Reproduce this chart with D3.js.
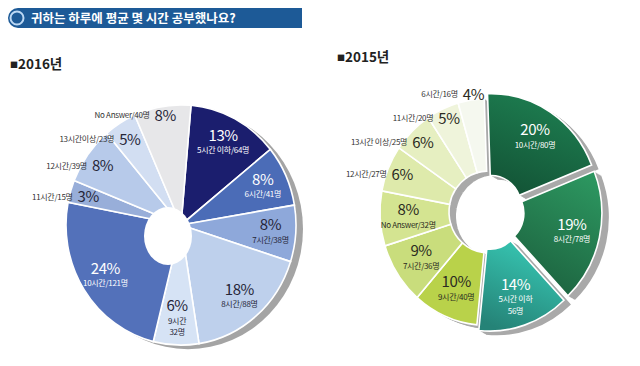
<!DOCTYPE html>
<html>
<head>
<meta charset="utf-8">
<script src="https://cdn.jsdelivr.net/npm/d3@7"></script>
<style>
  body { margin: 0; background: #fff; }
  text { font-family: "Noto Sans CJK KR", "Liberation Sans", sans-serif; }
</style>
</head>
<body>
<svg id="chart" width="640" height="366"></svg>
<script>
'use strict'

const TITLE = '귀하는 하루에 평균 몇 시간 공부했나요?'

// 2016
const names2016 = ['5시간 이하/64명', '6시간/41명', '7시간/38명', '8시간/88명', '9시간\n32명',
                   '10시간/121명', '11시간/15명', '12시간/39명', '13시간이상/23명', 'No Answer/40명']
const counts2016 = [64, 41, 38, 88, 32, 121, 15, 39, 23, 40]
const pcts2016 = [13, 8, 8, 18, 6, 24, 3, 8, 5, 8]
const colors2016 = ['#1b1e6e', '#4b6cb7', '#8ea8da', '#bed0ec', '#d6e3f5',
                    '#5371ba', '#98aed9', '#b7caea', '#d2def2', '#e7e7e9']

// 2015
const names2015 = ['10시간/80명', '8시간/78명', '5시간 이하\n56명', '9시간/40명', '7시간/36명',
                   'No Answer/32명', '12시간/27명', '13시간 이상/25명', '11시간/20명', '6시간/16명']
const counts2015 = [80, 78, 56, 40, 36, 32, 27, 25, 20, 16]
const pcts2015 = [20, 19, 14, 10, 9, 8, 6, 6, 5, 4]
const colors2015 = ['#176440', '#22744a', '#2c9d8e', '#b9d24a', '#c9dd7c',
                    '#d4e491', '#deeaab', '#e6efc1', '#eff4db', '#f5f8ef']

const svg = d3.select('#chart')
const defs = svg.append('defs')

// title bar
svg.append('rect').attr('x', 8).attr('y', 8).attr('width', 294).attr('height', 20)
  .attr('rx', 10).attr('fill', '#1d5a97')
svg.append('rect').attr('x', 280).attr('y', 8).attr('width', 22).attr('height', 20).attr('fill', '#1d5a97')
svg.append('circle').attr('cx', 17).attr('cy', 18).attr('r', 6.5)
  .attr('fill', '#1d5a97').attr('stroke', '#bcd8f4').attr('stroke-width', 2)
svg.append('text').attr('x', 31).attr('y', 22.5).text(TITLE)
  .attr('fill', '#fff').attr('font-size', 12.5).attr('font-weight', 'bold')

function header(x, y, year){
  let t = svg.append('text').attr('x', x).attr('y', y).attr('fill', '#222')
  t.append('tspan').text('■').attr('font-size', 8).attr('dy', -1)
  t.append('tspan').text(year + '년').attr('font-size', 13.5).attr('font-weight', 'bold').attr('dy', 1)
}
header(10, 69, 2016)
header(337, 62, 2015)

function polar(c, a, rr){
  return [c.cx + rr * Math.sin(a), c.cy - rr * c.sy * Math.cos(a)]
}

function makeArcs(c, names, counts, pcts, colors){
  let rows = names.map(function(n, i){
    return {name: n, count: counts[i], pct: pcts[i], color: colors[i], i: i}
  })
  let start = c.start * Math.PI / 180
  return d3.pie().sort(null).value(function(d){ return d.count })
    .startAngle(start).endAngle(start + 2 * Math.PI)(rows)
}

function explodeOffset(c, a){
  if (a.index >= c.explodeN) return [0, 0]
  let mid = (a.startAngle + a.endAngle) / 2
  return [c.explode * Math.sin(mid), -c.explode * Math.cos(mid)]
}

function shade(id, base){
  let col = d3.color(base)
  let lg = defs.append('linearGradient').attr('id', id)
    .attr('x1', 0.7).attr('y1', 0).attr('x2', 0.3).attr('y2', 1)
  lg.append('stop').attr('offset', 0).attr('stop-color', col.brighter(0.7))
  lg.append('stop').attr('offset', 1).attr('stop-color', col.darker(0.5))
  return 'url(#' + id + ')'
}

function drawLabels(c, arcs){
  let lg = svg.append('g')
  let lastY = null
  arcs.forEach(function(a){
    let mid = (a.startAngle + a.endAngle) / 2
    let deg = ((mid * 180 / Math.PI) % 360 + 360) % 360
    let off = explodeOffset(c, a)
    let light = d3.lab(a.data.color).l > 62
    let fill = light ? c.textColor : '#fff'
    if (deg < 280){
      let p = polar(c, mid, c.r * c.stackK)
      let x = p[0] + off[0], y = p[1] + off[1]
      let lines = a.data.name.split('\n')
      let shift = (lines.length - 1) * 6
      lg.append('text').attr('x', x).attr('y', y - 7 - shift).attr('dy', '0.36em')
        .attr('text-anchor', 'middle').attr('fill', fill)
        .attr('font-family', '"Liberation Sans", Arial, sans-serif')
        .attr('font-size', 15).attr('letter-spacing', -0.4)
        .text(a.data.pct + '%')
      lines.forEach(function(l, k){
        lg.append('text').attr('x', x).attr('y', y + 8 - shift + k * 11.5).attr('dy', '0.36em')
          .attr('text-anchor', 'middle').attr('fill', fill)
          .attr('font-size', 8).attr('letter-spacing', -0.3)
          .text(l)
      })
    } else {
      // outer labels climb the left side; keep them apart vertically
      let p = polar(c, mid, c.r * c.inlineK)
      if (lastY !== null) p[1] = Math.min(p[1], lastY - 24)
      lastY = p[1]
      let pt = lg.append('text').attr('x', p[0]).attr('y', p[1]).attr('dy', '0.36em')
        .attr('text-anchor', 'middle').attr('fill', c.textColor)
        .attr('font-family', '"Liberation Sans", Arial, sans-serif')
        .attr('font-size', 15).attr('letter-spacing', -0.4)
        .text(a.data.pct + '%')
      let w = pt.node().getComputedTextLength()
      lg.append('text').attr('x', p[0] - w / 2 - 5).attr('y', p[1]).attr('dy', '0.36em')
        .attr('text-anchor', 'end').attr('fill', '#333')
        .attr('font-size', 8).attr('letter-spacing', -0.3)
        .text(a.data.name)
    }
  })
}

// ---- 2016: full pie with grey side and an off-centre hole
const c16 = {cx: 181, cy: 225, r: 115, sy: 1.045, start: 5, stackK: 0.78, inlineK: 0.84,
             explodeN: 0, explode: 0, textColor: '#262638'}
const arcs16 = makeArcs(c16, names2016, counts2016, pcts2016, colors2016)

svg.append('ellipse').attr('cx', c16.cx + 7).attr('cy', c16.cy + 4)
  .attr('rx', c16.r).attr('ry', c16.r * c16.sy).attr('fill', '#a4a4a4')

let g16 = svg.append('g').attr('transform', 'translate(' + c16.cx + ',' + c16.cy + ') scale(1,' + c16.sy + ')')
g16.selectAll('path').data(arcs16).enter().append('path')
  .attr('d', d3.arc().innerRadius(0).outerRadius(c16.r))
  .attr('fill', function(d){ return d.data.color })
  .attr('stroke', '#fff').attr('stroke-width', 1.6)

svg.append('ellipse').attr('cx', c16.cx - 13).attr('cy', c16.cy + 11)
  .attr('rx', 24).attr('ry', 29).attr('fill', '#fff')

drawLabels(c16, arcs16)

// ---- 2015: donut, first three slices pulled out, grey walls
const c15 = {cx: 488, cy: 212, r: 108, sy: 1.05, start: -2, stackK: 0.74, inlineK: 0.86,
             explodeN: 3, explode: 6, textColor: '#2b2b22'}
const arcs15 = makeArcs(c15, names2015, counts2015, pcts2015, colors2015)
const inner15 = function(d){ return d.index < c15.explodeN ? 30 : 39 }
const arc15 = d3.arc().innerRadius(inner15).outerRadius(c15.r)

function place15(dx, dy){
  return function(d){
    let o = explodeOffset(c15, d)
    return 'translate(' + (c15.cx + o[0] + dx) + ',' + (c15.cy + o[1] + dy) + ') scale(1,' + c15.sy + ')'
  }
}

let wall = svg.append('g')
d3.range(1, 8).forEach(function(k){
  wall.selectAll('.w' + k).data(arcs15).enter().append('path')
    .attr('transform', place15(k, k * 0.6))
    .attr('d', arc15)
    .attr('fill', '#a9a9a9')
})

svg.append('g').selectAll('path').data(arcs15).enter().append('path')
  .attr('transform', place15(0, 0))
  .attr('d', arc15)
  .attr('fill', function(d){
    return d.index < c15.explodeN ? shade('g15_' + d.index, d.data.color) : d.data.color
  })
  .attr('stroke', '#fff').attr('stroke-width', 1.6)

drawLabels(c15, arcs15)
</script>
</body>
</html>
